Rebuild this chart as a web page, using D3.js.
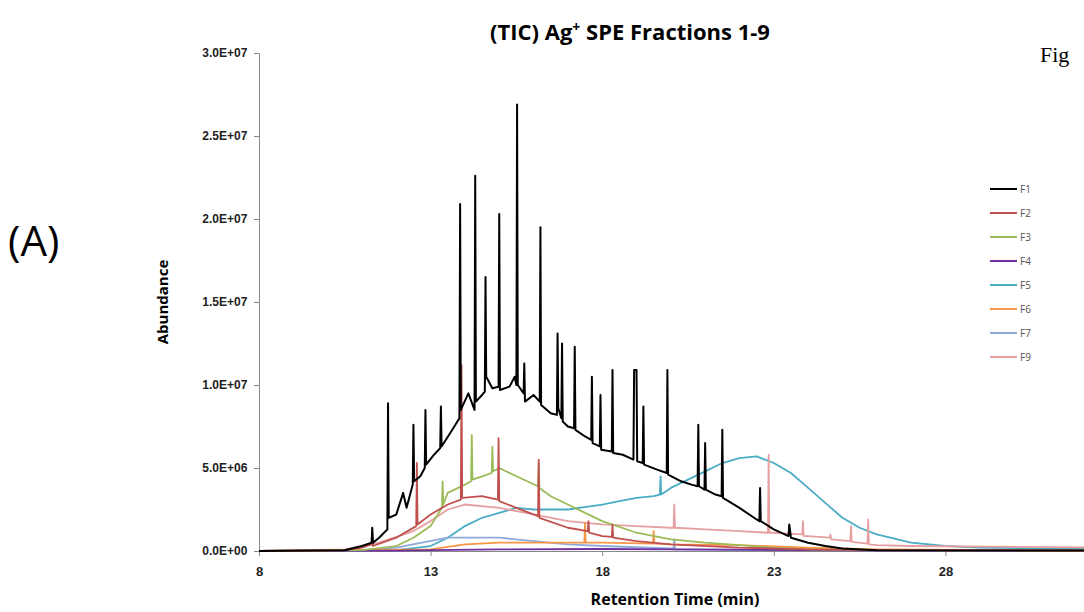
<!DOCTYPE html>
<html><head><meta charset="utf-8">
<script src="https://cdn.jsdelivr.net/npm/d3@7"></script>
<style>body{margin:0;background:#fff;font-family:"Open Sans",Arial,sans-serif}</style>
</head><body><svg id="c" width="1084" height="612"></svg>
<script>
// values in millions of counts, [time (min), abundance]
var f1 = [[8,0],[10.5,0.05],[11,0.3],[11.28,0.5],[11.3,1.4],[11.32,0.5],[11.5,0.8],[11.74,1.3],[11.76,8.9],[11.78,2.0],[12,2.2],[12.2,3.5],[12.3,2.6],[12.48,4.0],[12.5,7.6],[12.52,4.2],[12.7,4.5],[12.83,5.0],[12.85,8.5],[12.87,5.2],[13.1,5.8],[13.28,6.2],[13.3,8.7],[13.32,6.3],[13.6,7.2],[13.84,8.0],[13.86,20.9],[13.88,8.5],[14.1,9.5],[14.28,8.5],[14.3,22.6],[14.32,9.0],[14.5,9.4],[14.58,9.6],[14.6,16.5],[14.62,10.5],[14.8,9.8],[14.98,9.9],[15.0,20.3],[15.02,9.7],[15.3,9.9],[15.45,10.5],[15.5,10.0],[15.52,26.9],[15.54,10.0],[15.71,9.5],[15.73,11.3],[15.75,9.0],[16.0,9.4],[16.18,9.0],[16.2,19.5],[16.22,8.8],[16.5,8.3],[16.68,8.2],[16.7,13.1],[16.72,8.6],[16.81,8.0],[16.83,12.5],[16.85,7.8],[17.0,7.5],[17.18,7.4],[17.2,12.3],[17.22,7.3],[17.5,6.9],[17.68,6.7],[17.7,10.5],[17.72,6.5],[17.93,6.3],[17.95,9.4],[17.97,6.1],[18.28,6.0],[18.3,10.9],[18.32,5.9],[18.6,5.8],[18.91,5.5],[18.93,10.9],[19.0,10.9],[19.02,5.4],[19.18,5.3],[19.2,8.7],[19.22,5.2],[19.6,4.9],[19.88,4.7],[19.9,10.9],[19.92,4.6],[20.3,4.2],[20.6,4.0],[20.78,3.9],[20.8,7.6],[20.82,3.9],[20.98,3.7],[21.0,6.5],[21.02,3.7],[21.3,3.4],[21.48,3.3],[21.5,7.3],[21.52,3.2],[22.0,2.6],[22.5,1.9],[22.58,1.8],[22.6,3.8],[22.62,1.8],[23.0,1.3],[23.43,0.9],[23.45,1.6],[23.5,0.8],[24,0.5],[24.5,0.3],[25,0.15],[26,0.05],[33,0.02]];
var f2 = [[8,0],[10.5,0.05],[11,0.2],[11.28,0.4],[11.3,0.9],[11.32,0.3],[12,0.8],[12.58,1.5],[12.6,5.3],[12.62,1.6],[13,2.2],[13.5,2.8],[13.88,3.1],[13.9,11.2],[13.92,3.2],[14.5,3.3],[14.96,3.1],[14.98,6.8],[15.0,3.0],[15.5,2.6],[16.13,2.1],[16.15,5.5],[16.17,2.0],[17,1.4],[17.58,1.2],[17.6,1.8],[17.62,1.1],[18,0.9],[18.28,0.85],[18.3,1.6],[18.32,0.8],[19,0.6],[20,0.4],[22,0.2],[24,0.1],[26,0.05],[33,0.02]];
var f3 = [[8,0],[11,0.05],[12,0.3],[12.5,0.8],[13,1.5],[13.33,2.6],[13.35,4.2],[13.37,2.8],[13.5,3.5],[14,4.0],[14.18,4.2],[14.2,7.0],[14.22,4.3],[14.5,4.5],[14.78,4.7],[14.8,6.3],[14.82,4.8],[15,5.0],[15.5,4.5],[16.13,3.9],[16.15,5.3],[16.17,3.8],[16.5,3.3],[17,2.8],[18,1.8],[19,1.1],[20,0.7],[21,0.5],[22,0.35],[23,0.2],[24,0.1],[26,0.05],[33,0.02]];
var f4 = [[8,0],[12,0.02],[13,0.05],[15,0.1],[18,0.12],[20,0.1],[22,0.08],[25,0.04],[33,0.02]];
var f5 = [[8,0],[12,0.05],[13,0.3],[13.5,0.8],[14,1.5],[14.5,2.0],[15,2.3],[15.5,2.6],[16,2.5],[17,2.5],[18,2.8],[18.5,3.0],[19,3.2],[19.5,3.3],[19.68,3.4],[19.7,4.5],[19.72,3.4],[20,3.8],[20.5,4.3],[21,4.8],[21.5,5.3],[22,5.6],[22.5,5.7],[23,5.3],[23.5,4.7],[24,3.8],[24.5,2.9],[25,2.0],[25.5,1.4],[26,1.0],[27,0.5],[28,0.3],[29,0.2],[33,0.1]];
var f6 = [[8,0],[13,0.1],[14,0.4],[15,0.5],[16,0.5],[17,0.5],[17.48,0.5],[17.5,1.7],[17.52,0.5],[18,0.5],[19.48,0.45],[19.5,1.2],[19.52,0.45],[20,0.4],[22,0.35],[24,0.2],[26,0.1],[33,0.02]];
var f7 = [[8,0],[11,0.05],[12,0.2],[13.5,0.8],[15,0.8],[16,0.6],[17,0.4],[18,0.3],[20,0.15],[20.08,0.15],[20.1,0.7],[20.12,0.1],[22,0.05],[33,0.02]];
var f9 = [[8,0],[10.5,0.1],[11.5,0.5],[12.5,1.2],[13,1.8],[13.5,2.5],[14,2.8],[15,2.6],[16,2.2],[17,1.8],[18,1.6],[19,1.5],[20,1.4],[20.08,1.4],[20.1,2.8],[20.12,1.4],[21,1.3],[22,1.2],[22.83,1.1],[22.85,5.8],[22.87,1.1],[23,1.1],[23.83,1.0],[23.85,1.8],[23.87,0.9],[24,0.9],[24.63,0.8],[24.65,1.0],[24.67,0.7],[25.23,0.6],[25.25,1.5],[25.27,0.55],[25.73,0.45],[25.75,1.9],[25.77,0.4],[26,0.35],[27,0.3],[33,0.2]];
var names = ["F1","F2","F3","F4","F5","F6","F7","F9"];
var colors = ["#000000","#c0504d","#9bbb59","#7030a0","#4bacc6","#f79646","#8eaadb","#e6a0a0"];
var xTicks = [8,13,18,23,28];
var yTicks = [0,5,10,15,20,25,30];

var series = [f1,f2,f3,f4,f5,f6,f7,f9];
var svg = d3.select("#c");
var x = d3.scaleLinear().domain([8,33]).range([259,1117]);
var y = d3.scaleLinear().domain([0,30]).range([551,53]);

svg.append("g").attr("transform","translate(0,551)")
  .call(d3.axisBottom(x).tickValues(xTicks).tickSize(5).tickFormat(d3.format("d")))
  .call(function(g){g.select(".domain").attr("stroke","#888");g.selectAll("line").attr("stroke","#888");
    g.selectAll("text").attr("font-size",13).attr("font-weight","bold").attr("fill","#222").attr("dy","1.3em");});
svg.append("g").attr("transform","translate(259,0)")
  .call(d3.axisLeft(y).tickValues(yTicks).tickSize(5)
    .tickFormat(function(d){return d==0?"0.0E+00":d==5?"5.0E+06":(d/10).toFixed(1)+"E+07";}))
  .call(function(g){g.select(".domain").attr("stroke","#888");g.selectAll("line").attr("stroke","#888");
    g.selectAll("text").attr("font-size",12).attr("font-weight","bold").attr("fill","#222").attr("dx","-0.3em");});

var line = d3.line().x(function(d){return x(d[0]);}).y(function(d){return y(d[1]);});
[4,7,6,5,3,2,1,0].forEach(function(i){
  svg.append("path").datum(series[i]).attr("d",line).attr("fill","none")
    .attr("stroke",colors[i]).attr("stroke-width",i==0?2:1.8).attr("stroke-linejoin","round");
});

var lg = svg.append("g");
names.forEach(function(n,i){
  var yy = 189 + i*24;
  lg.append("line").attr("x1",990).attr("x2",1017).attr("y1",yy).attr("y2",yy).attr("stroke",colors[i]).attr("stroke-width",2);
  lg.append("text").attr("x",1020).attr("y",yy+4).attr("font-size",10).attr("fill","#555").text(n);
});

svg.append("text").attr("x",630).attr("y",40).attr("text-anchor","middle").attr("font-size",22).attr("font-weight","bold")
  .html('(TIC) Ag<tspan dy="-8" font-size="14">+</tspan><tspan dy="8"> SPE Fractions 1-9</tspan>');
svg.append("text").attr("x",675).attr("y",605).attr("text-anchor","middle").attr("font-size",16).attr("font-weight","bold").text("Retention Time (min)");
svg.append("text").attr("transform","translate(168,302) rotate(-90)").attr("text-anchor","middle").attr("font-size",15).attr("font-weight","bold").text("Abundance");
svg.append("text").attr("x",8).attr("y",256).attr("font-size",42).text("(A)");
svg.append("text").attr("x",1040).attr("y",62).attr("font-family","Liberation Serif").attr("font-size",22).text("Fig");
</script></body></html>
